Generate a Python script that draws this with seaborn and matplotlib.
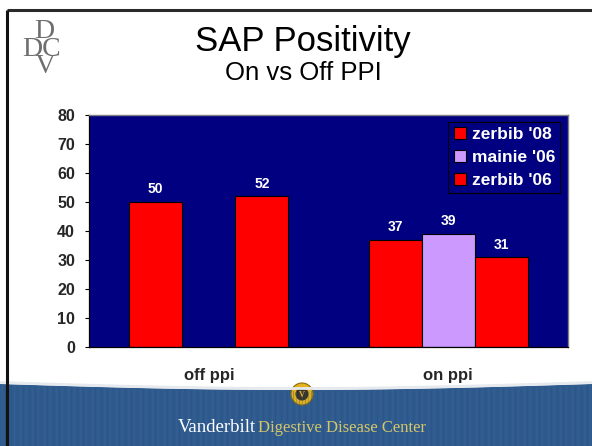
import numpy as np
import pandas as pd
import matplotlib
matplotlib.use("Agg")
import matplotlib.pyplot as plt
from matplotlib.patches import Polygon, Circle, Rectangle
import seaborn as sns

# ---- data ----
categories = ["off ppi", "off ppi", "on ppi", "on ppi", "on ppi"]
studies = ["zerbib '08", "zerbib '06", "zerbib '08", "mainie '06", "zerbib '06"]
positivity = [50, 52, 37, 39, 31]
study_order = ["zerbib '08", "mainie '06", "zerbib '06"]
study_colors = ["#ff0000", "#cc99ff", "#ff0000"]
group_order = ["off ppi", "on ppi"]
y_ticks = [0, 10, 20, 30, 40, 50, 60, 70, 80]

df = pd.DataFrame({"group": categories, "study": studies, "value": positivity})

sns.set_style("white")
plt.rcParams["font.family"] = ["Liberation Sans", "DejaVu Sans"]

W, H = 592, 446
fig = plt.figure(figsize=(W / 100, H / 100), dpi=100)
fig.patch.set_facecolor("white")

# ---- slide background layer (pixel coordinates) ----
bg = fig.add_axes([0, 0, 1, 1], zorder=0)
bg.set_xlim(0, W)
bg.set_ylim(H, 0)
bg.axis("off")

# frame lines
bg.plot([7, W], [10, 10], color="#2a2a2a", lw=2.2, solid_capstyle="butt")
bg.plot([7, 7], [10, H], color="#111111", lw=2.2, solid_capstyle="butt")

# footer band with curved top edge
xs = np.linspace(0, W, 200)
top = 384 + 6 * np.sin(np.pi * xs / W)
poly = np.vstack([np.column_stack([xs, top]), [[W, H], [0, H]]])
bg.add_patch(Polygon(poly, closed=True, facecolor="#2f5b8e", edgecolor="none"))
bg.plot(xs, top - 1.5, color="#e6e9ee", lw=2)
# fine vertical texture in the band
for i, x in enumerate(np.arange(2, W, 3.0)):
    bg.plot([x, x], [384 + 6 * np.sin(np.pi * x / W) + 1, H],
            color="#264d7c" if i % 2 else "#3a669a", lw=0.8, alpha=0.35)
bg.plot([7, 7], [380, H], color="#111111", lw=2.2, solid_capstyle="butt")

# emblem
bg.add_patch(Circle((302, 394), 11, facecolor="#e3b21c", edgecolor="#8a6a10", lw=0.8))
bg.add_patch(Circle((302, 394), 6.5, facecolor="#3b3323", edgecolor="none"))
bg.text(302, 395, "V", ha="center", va="center", color="#d8b040",
        fontsize=6, fontweight="bold", family="Liberation Serif")

# footer text
bg.text(256, 428, "Vanderbilt", ha="right", va="center", color="white",
        fontsize=13.5, family="Liberation Serif")
bg.text(258, 428, "Digestive Disease Center", ha="left", va="center",
        color="#d6c66a", fontsize=12, family="Liberation Serif")

# monogram
bg.text(42, 49, " D\nDC\n V", family="Liberation Serif", color="#6e6e6e",
        ha="center", va="center", fontsize=20, linespacing=0.62)

# titles
bg.text(303, 41, "SAP Positivity", ha="center", va="center", fontsize=25, color="black")
bg.text(303, 73, "On vs Off PPI", ha="center", va="center", fontsize=18.5, color="black")

# ---- chart ----
ax = fig.add_axes([89 / W, 1 - 347 / H, (568 - 89) / W, (347 - 115) / H], zorder=2)
ax.set_facecolor("#000080")
palette = {s: c for s, c in zip(study_order, study_colors)}
sns.barplot(data=df, x="group", y="value", hue="study", hue_order=study_order,
            palette=palette, order=group_order, width=0.664, edgecolor="black",
            linewidth=0.8, saturation=1, errorbar=None, ax=ax, legend=False)

for cont in ax.containers:
    ax.bar_label(cont, fmt="%.0f", padding=4, color="white", fontsize=10, fontweight="bold")

ax.set_xlim(-0.5, 1.5)
ax.set_ylim(0, 80)
ax.set_yticks(y_ticks)
ax.set_yticklabels([str(v) for v in y_ticks], fontsize=11.5, fontweight="bold")
ax.set_xticks([0, 1])
ax.set_xticklabels(group_order, fontsize=12, fontweight="bold")
ax.set_xticks([-0.5, 0.5, 1.5], minor=True)
ax.tick_params(axis="x", which="major", length=0, pad=15)
ax.tick_params(axis="x", which="minor", length=4, width=0.8, direction="out", color="black")
ax.tick_params(axis="y", length=3, width=0.8, direction="out", color="black", pad=7, left=True)
ax.set_xlabel("")
ax.set_ylabel("")
for side in ["left", "bottom"]:
    ax.spines[side].set_color("black")
    ax.spines[side].set_linewidth(0.9)
for side in ["top", "right"]:
    ax.spines[side].set_visible(True)
    ax.spines[side].set_color("#808080")
    ax.spines[side].set_linewidth(1.0)

handles = [Rectangle((0, 0), 1, 1, facecolor=c, edgecolor="black", lw=0.8) for c in study_colors]
leg = ax.legend(handles, study_order, loc="upper right", bbox_to_anchor=(0.984, 0.97),
                frameon=True, fancybox=False, facecolor="#000080", edgecolor="black",
                framealpha=1, handlelength=0.7, handleheight=0.7, handletextpad=0.35,
                labelspacing=0.45, borderpad=0.3, borderaxespad=0,
                prop={"weight": "bold", "size": 12.5})
leg.get_frame().set_linewidth(0.8)
for t in leg.get_texts():
    t.set_color("white")

fig.savefig("out.png", dpi=100)
